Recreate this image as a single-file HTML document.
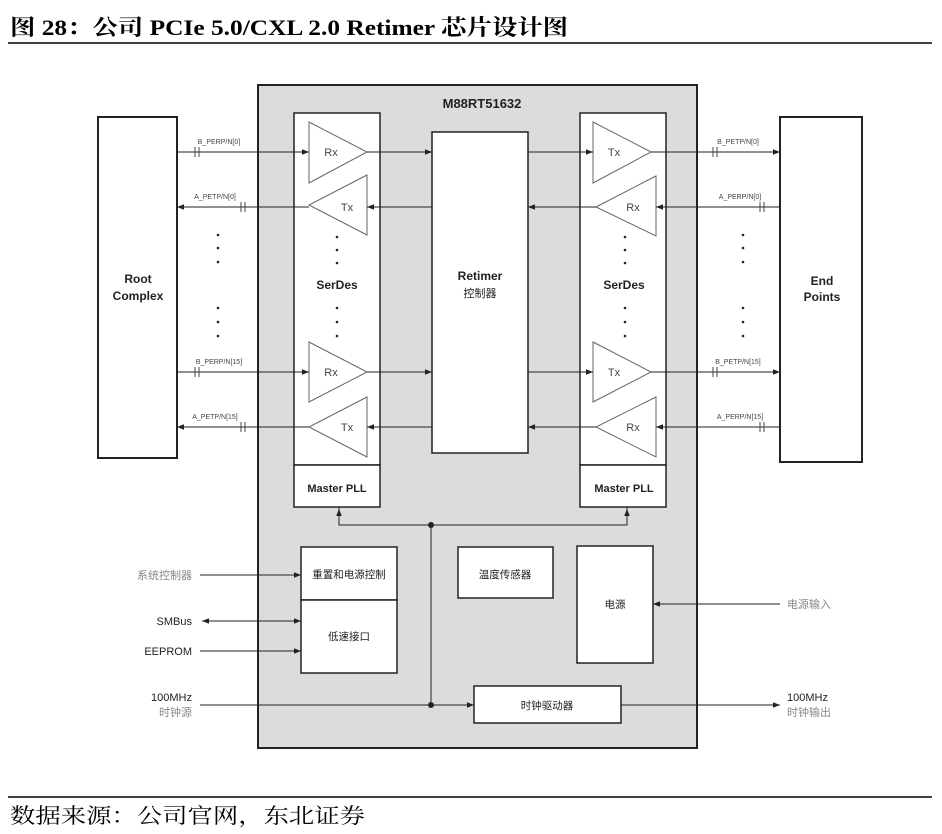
<!DOCTYPE html>
<html><head><meta charset="utf-8"><style>
html,body{margin:0;padding:0;background:#fff;width:942px;height:834px;overflow:hidden}
svg{display:block}
.t{font-family:"Liberation Sans","Noto Sans CJK SC",sans-serif}
</style></head><body>
<svg width="942" height="834" viewBox="0 0 942 834" xmlns="http://www.w3.org/2000/svg">
<defs>
<marker id="a" viewBox="0 0 10 10" refX="10" refY="5" markerWidth="7" markerHeight="7" orient="auto-start-reverse"><path d="M0,1 L10,5 L0,9 z" fill="#222"/></marker>
</defs>
<text x="10" y="35" font-family="Liberation Serif,Noto Serif CJK SC,serif" font-weight="bold" font-size="22" fill="#000" textLength="558" lengthAdjust="spacingAndGlyphs">图  28：公司 PCIe 5.0/CXL 2.0 Retimer 芯片设计图</text>
<line x1="8" y1="43" x2="932" y2="43" stroke="#000" stroke-width="1.5"/>
<line x1="8" y1="797" x2="932" y2="797" stroke="#000" stroke-width="1.5"/>
<text x="10" y="823" font-family="Noto Serif CJK SC,serif" font-size="21" fill="#000" textLength="355" lengthAdjust="spacingAndGlyphs">数据来源：公司官网，东北证券</text>

<g class="t" stroke="#222" fill="none" stroke-width="1">
<rect x="258" y="85" width="439" height="663" fill="#dcdcdc" stroke-width="2"/>
<rect x="98" y="117" width="79" height="341" fill="#fff" stroke-width="2"/>
<rect x="780" y="117" width="82" height="345" fill="#fff" stroke-width="2"/>
<rect x="294" y="113" width="86" height="352" fill="#fff" stroke-width="1.5"/>
<rect x="294" y="465" width="86" height="42" fill="#fff" stroke-width="1.5"/>
<rect x="580" y="113" width="86" height="352" fill="#fff" stroke-width="1.5"/>
<rect x="580" y="465" width="86" height="42" fill="#fff" stroke-width="1.5"/>
<rect x="432" y="132" width="96" height="321" fill="#fff" stroke-width="1.5"/>
<rect x="301" y="547" width="96" height="53" fill="#fff" stroke-width="1.5"/>
<rect x="301" y="600" width="96" height="73" fill="#fff" stroke-width="1.5"/>
<rect x="458" y="547" width="95" height="51" fill="#fff" stroke-width="1.5"/>
<rect x="577" y="546" width="76" height="117" fill="#fff" stroke-width="1.5"/>
<rect x="474" y="686" width="147" height="37" fill="#fff" stroke-width="1.5"/>
<g stroke="#666">
<path d="M309,122 L367,152 L309,183 Z"/>
<path d="M367,175 L309,205 L367,235 Z"/>
<path d="M309,342 L367,372 L309,402 Z"/>
<path d="M367,397 L309,427 L367,457 Z"/>
<path d="M593,122 L651,152 L593,183 Z"/>
<path d="M656,176 L596,207 L656,236 Z"/>
<path d="M593,342 L651,372 L593,402 Z"/>
<path d="M656,397 L596,427 L656,457 Z"/>
</g>
<line x1="177" y1="152" x2="309" y2="152" marker-end="url(#a)"/>
<line x1="367" y1="152" x2="432" y2="152" marker-end="url(#a)"/>
<line x1="528" y1="152" x2="593" y2="152" marker-end="url(#a)"/>
<line x1="651" y1="152" x2="780" y2="152" marker-end="url(#a)"/>
<line x1="309" y1="207" x2="177" y2="207" marker-end="url(#a)"/>
<line x1="432" y1="207" x2="367" y2="207" marker-end="url(#a)"/>
<line x1="596" y1="207" x2="528" y2="207" marker-end="url(#a)"/>
<line x1="780" y1="207" x2="656" y2="207" marker-end="url(#a)"/>
<line x1="177" y1="372" x2="309" y2="372" marker-end="url(#a)"/>
<line x1="367" y1="372" x2="432" y2="372" marker-end="url(#a)"/>
<line x1="528" y1="372" x2="593" y2="372" marker-end="url(#a)"/>
<line x1="651" y1="372" x2="780" y2="372" marker-end="url(#a)"/>
<line x1="309" y1="427" x2="177" y2="427" marker-end="url(#a)"/>
<line x1="432" y1="427" x2="367" y2="427" marker-end="url(#a)"/>
<line x1="596" y1="427" x2="528" y2="427" marker-end="url(#a)"/>
<line x1="780" y1="427" x2="656" y2="427" marker-end="url(#a)"/>
<g stroke="#444">
<line x1="195" y1="147" x2="195" y2="157"/><line x1="199" y1="147" x2="199" y2="157"/>
<line x1="241" y1="202" x2="241" y2="212"/><line x1="245" y1="202" x2="245" y2="212"/>
<line x1="195" y1="367" x2="195" y2="377"/><line x1="199" y1="367" x2="199" y2="377"/>
<line x1="241" y1="422" x2="241" y2="432"/><line x1="245" y1="422" x2="245" y2="432"/>
<line x1="713" y1="147" x2="713" y2="157"/><line x1="717" y1="147" x2="717" y2="157"/>
<line x1="760" y1="202" x2="760" y2="212"/><line x1="764" y1="202" x2="764" y2="212"/>
<line x1="713" y1="367" x2="713" y2="377"/><line x1="717" y1="367" x2="717" y2="377"/>
<line x1="760" y1="422" x2="760" y2="432"/><line x1="764" y1="422" x2="764" y2="432"/>
</g>
<polyline points="339,507 339,525 627,525 627,507"/>
<line x1="339" y1="525" x2="339" y2="509" marker-end="url(#a)"/>
<line x1="627" y1="525" x2="627" y2="509" marker-end="url(#a)"/>
<line x1="431" y1="525" x2="431" y2="705"/>
<line x1="200" y1="705" x2="474" y2="705" marker-end="url(#a)"/>
<line x1="621" y1="705" x2="780" y2="705" marker-end="url(#a)"/>
<line x1="200" y1="575" x2="301" y2="575" marker-end="url(#a)"/>
<line x1="202" y1="621" x2="301" y2="621" marker-start="url(#a)" marker-end="url(#a)"/>
<line x1="200" y1="651" x2="301" y2="651" marker-end="url(#a)"/>
<line x1="780" y1="604" x2="653" y2="604" marker-end="url(#a)"/>
</g>
<g fill="#222">
<circle cx="431" cy="525" r="3"/><circle cx="431" cy="705" r="3"/>
<circle cx="218" cy="235" r="1.3"/><circle cx="218" cy="248" r="1.3"/><circle cx="218" cy="262" r="1.3"/>
<circle cx="218" cy="308" r="1.3"/><circle cx="218" cy="322" r="1.3"/><circle cx="218" cy="336" r="1.3"/>
<circle cx="337" cy="237" r="1.3"/><circle cx="337" cy="250" r="1.3"/><circle cx="337" cy="263" r="1.3"/>
<circle cx="337" cy="308" r="1.3"/><circle cx="337" cy="322" r="1.3"/><circle cx="337" cy="336" r="1.3"/>
<circle cx="625" cy="237" r="1.3"/><circle cx="625" cy="250" r="1.3"/><circle cx="625" cy="263" r="1.3"/>
<circle cx="625" cy="308" r="1.3"/><circle cx="625" cy="322" r="1.3"/><circle cx="625" cy="336" r="1.3"/>
<circle cx="743" cy="235" r="1.3"/><circle cx="743" cy="248" r="1.3"/><circle cx="743" cy="262" r="1.3"/>
<circle cx="743" cy="308" r="1.3"/><circle cx="743" cy="322" r="1.3"/><circle cx="743" cy="336" r="1.3"/>
</g>
<g class="t" font-size="12" fill="#222" text-anchor="middle">
<text x="482" y="108" font-weight="bold" font-size="13">M88RT51632</text>
<text x="138" y="283" font-weight="bold">Root</text><text x="138" y="300" font-weight="bold">Complex</text>
<text x="822" y="285" font-weight="bold">End</text><text x="822" y="301" font-weight="bold">Points</text>
<text x="337" y="289" font-weight="bold">SerDes</text>
<text x="624" y="289" font-weight="bold">SerDes</text>
<text x="480" y="280" font-weight="bold">Retimer</text>
<text x="480" y="297" font-size="11">控制器</text>
<text x="337" y="492" font-weight="bold" font-size="11">Master PLL</text>
<text x="624" y="492" font-weight="bold" font-size="11">Master PLL</text>
<g font-size="11" fill="#444">
<text x="331" y="156">Rx</text><text x="347" y="211">Tx</text>
<text x="331" y="376">Rx</text><text x="347" y="431">Tx</text>
<text x="614" y="156">Tx</text><text x="633" y="211">Rx</text>
<text x="614" y="376">Tx</text><text x="633" y="431">Rx</text>
</g>
<g font-size="7" fill="#444">
<text x="219" y="144">B_PERP/N[0]</text>
<text x="215" y="199">A_PETP/N[0]</text>
<text x="219" y="364">B_PERP/N[15]</text>
<text x="215" y="419">A_PETP/N[15]</text>
<text x="738" y="144">B_PETP/N[0]</text>
<text x="740" y="199">A_PERP/N[0]</text>
<text x="738" y="364">B_PETP/N[15]</text>
<text x="740" y="419">A_PERP/N[15]</text>
</g>
<g font-size="10.5">
<text x="349" y="578">重置和电源控制</text>
<text x="349" y="640">低速接口</text>
<text x="505" y="578">温度传感器</text>
<text x="615" y="608">电源</text>
<text x="547" y="709">时钟驱动器</text>
</g>
<g font-size="11" text-anchor="end">
<text x="192" y="579" fill="#888">系统控制器</text>
<text x="192" y="625">SMBus</text>
<text x="192" y="655">EEPROM</text>
<text x="192" y="701">100MHz</text>
<text x="192" y="716" fill="#888">时钟源</text>
</g>
<g font-size="11" text-anchor="start">
<text x="787" y="608" fill="#888">电源输入</text>
<text x="787" y="701">100MHz</text>
<text x="787" y="716" fill="#888">时钟输出</text>
</g>
</g>
</svg>
</body></html>
